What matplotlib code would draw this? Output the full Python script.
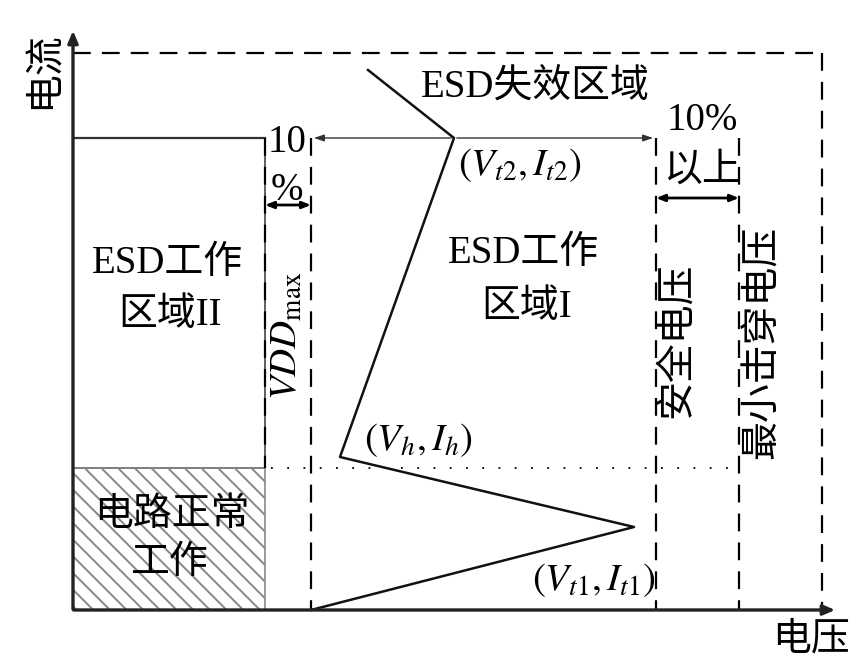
import matplotlib as mpl
import matplotlib.pyplot as plt
from matplotlib.patches import Rectangle

mpl.rcParams.update({'font.family': ['Liberation Serif', 'Noto Sans CJK SC', 'DejaVu Sans'],
                     'mathtext.fontset': 'stix',
                     'hatch.color': '#b0b0b0',
                     'hatch.linewidth': 1.4,
                    })

# characteristic points of the snapback curve (voltage, current) in drawing units
curve_v = [238, 561, 267, 381, 295]
curve_i = [0, 83, 153, 472, 540]

# voltage levels
v_box = 192        # edge of ESD region II
v_vdd = 238        # VDD_max
v_safe = 583       # safe voltage
v_break = 666      # minimum breakdown voltage
v_limit = 749      # outer limit
v_end = 765        # end of voltage axis

# current levels
i_h = 142          # holding current level
i_t2 = 472         # failure current level
i_limit = 557      # outer limit
i_end = 582        # end of current axis

fig = plt.figure(figsize=(8.65, 6.65), dpi=100)
ax = fig.add_axes([0, 0, 1, 1])
ax.set_xlim(-73, 792)
ax.set_ylim(-55, 610)
ax.axis('off')

dash = (0, (8, 5))
k = 'black'

# axes with arrows
ax.annotate('', xy=(0, i_end), xytext=(0, -2),
            arrowprops=dict(arrowstyle='-|>,head_length=0.7,head_width=0.3', lw=2.4, color='#222'))
ax.annotate('', xy=(v_end, 0), xytext=(-2, 0),
            arrowprops=dict(arrowstyle='-|>,head_length=0.7,head_width=0.3', lw=2.4, color='#222'))

# outer dashed limit
ax.plot([0, v_limit], [i_limit, i_limit], ls=dash, color=k, lw=1.6)
ax.plot([v_limit, v_limit], [i_limit, 0], ls=dash, color=k, lw=1.6)

# region II box and normal operation box
ax.add_patch(Rectangle((0, i_h), v_box, i_t2 - i_h, fill=False, ec='#444', lw=1.2))
ax.add_patch(Rectangle((0, 0), v_box, i_h, fill=False, ec='#888', lw=1.2, hatch='\\\\'))
ax.plot([0, v_box], [i_t2, i_t2], color='#333', lw=1.6)

# dashed voltage levels
ax.plot([v_box, v_box], [i_t2, i_h], ls=dash, color=k, lw=1.6)
for v in [v_vdd, v_safe, v_break]:
    ax.plot([v, v], [i_t2, 0], ls=dash, color=k, lw=1.6)

# dotted holding current line
ax.plot([v_box + 6, v_break - 7], [i_h, i_h], ls=(0, (1, 8)), color=k, lw=1.3)

# arrows along the It2 level
ax.annotate('', xy=(v_vdd, i_t2), xytext=(curve_v[3], i_t2),
            arrowprops=dict(arrowstyle='-|>,head_length=0.6,head_width=0.2', lw=1.0, color='#333'))
ax.annotate('', xy=(v_safe, i_t2), xytext=(curve_v[3], i_t2),
            arrowprops=dict(arrowstyle='-|>,head_length=0.6,head_width=0.2', lw=1.0, color='#333'))

# 10% double arrows
ax.annotate('', xy=(v_box, 405), xytext=(v_vdd, 405),
            arrowprops=dict(arrowstyle='<|-|>,head_length=0.5,head_width=0.2', lw=2, color=k,
                            shrinkA=0, shrinkB=0))
ax.annotate('', xy=(v_safe, 412), xytext=(v_break, 412),
            arrowprops=dict(arrowstyle='<|-|>,head_length=0.5,head_width=0.2', lw=2, color=k,
                            shrinkA=0, shrinkB=0))

# snapback curve
ax.plot(curve_v, curve_i, color='#111', lw=1.8)

# labels
fs = 28
ax.text(-28, 540, '电流', fontsize=fs, rotation=90, ha='center', va='center')
ax.text(738, -30, '电压', fontsize=fs, ha='center', va='center')
ax.text(462, 522, 'ESD失效区域', fontsize=fs, ha='center', va='center')
ax.text(450, 357, 'ESD工作', fontsize=fs, ha='center', va='center')
ax.text(454, 303, '区域I', fontsize=fs, ha='center', va='center')
ax.text(94, 347, 'ESD工作', fontsize=fs, ha='center', va='center')
ax.text(97, 294, '区域II', fontsize=fs, ha='center', va='center')
ax.text(99, 94, '电路正常', fontsize=fs, ha='center', va='center')
ax.text(97, 47, '工作', fontsize=fs, ha='center', va='center')
ax.text(214, 468, '10', fontsize=fs, ha='center', va='center')
ax.text(214, 420, '%', fontsize=fs, ha='center', va='center')
ax.text(629, 489, '10%', fontsize=fs, ha='center', va='center')
ax.text(629, 439, '以上', fontsize=fs, ha='center', va='center')
ax.text(604, 270, '安全电压', fontsize=fs, rotation=90, ha='center', va='center')
ax.text(690, 268, '最小击穿电压', fontsize=fs, rotation=90, ha='center', va='center')
ax.text(214, 274, r'$VDD_{\rm max}$', fontsize=fs, rotation=90, ha='center', va='center')
ax.text(447, 445, r'$\left(V_{t2},I_{t2}\right)$', fontsize=28, ha='center', va='center')
ax.text(345, 170, r'$\left(V_{h},I_{h}\right)$', fontsize=28, ha='center', va='center')
ax.text(521, 30, r'$\left(V_{t1},I_{t1}\right)$', fontsize=28, ha='center', va='center')

fig.savefig('out.png', dpi=100)
